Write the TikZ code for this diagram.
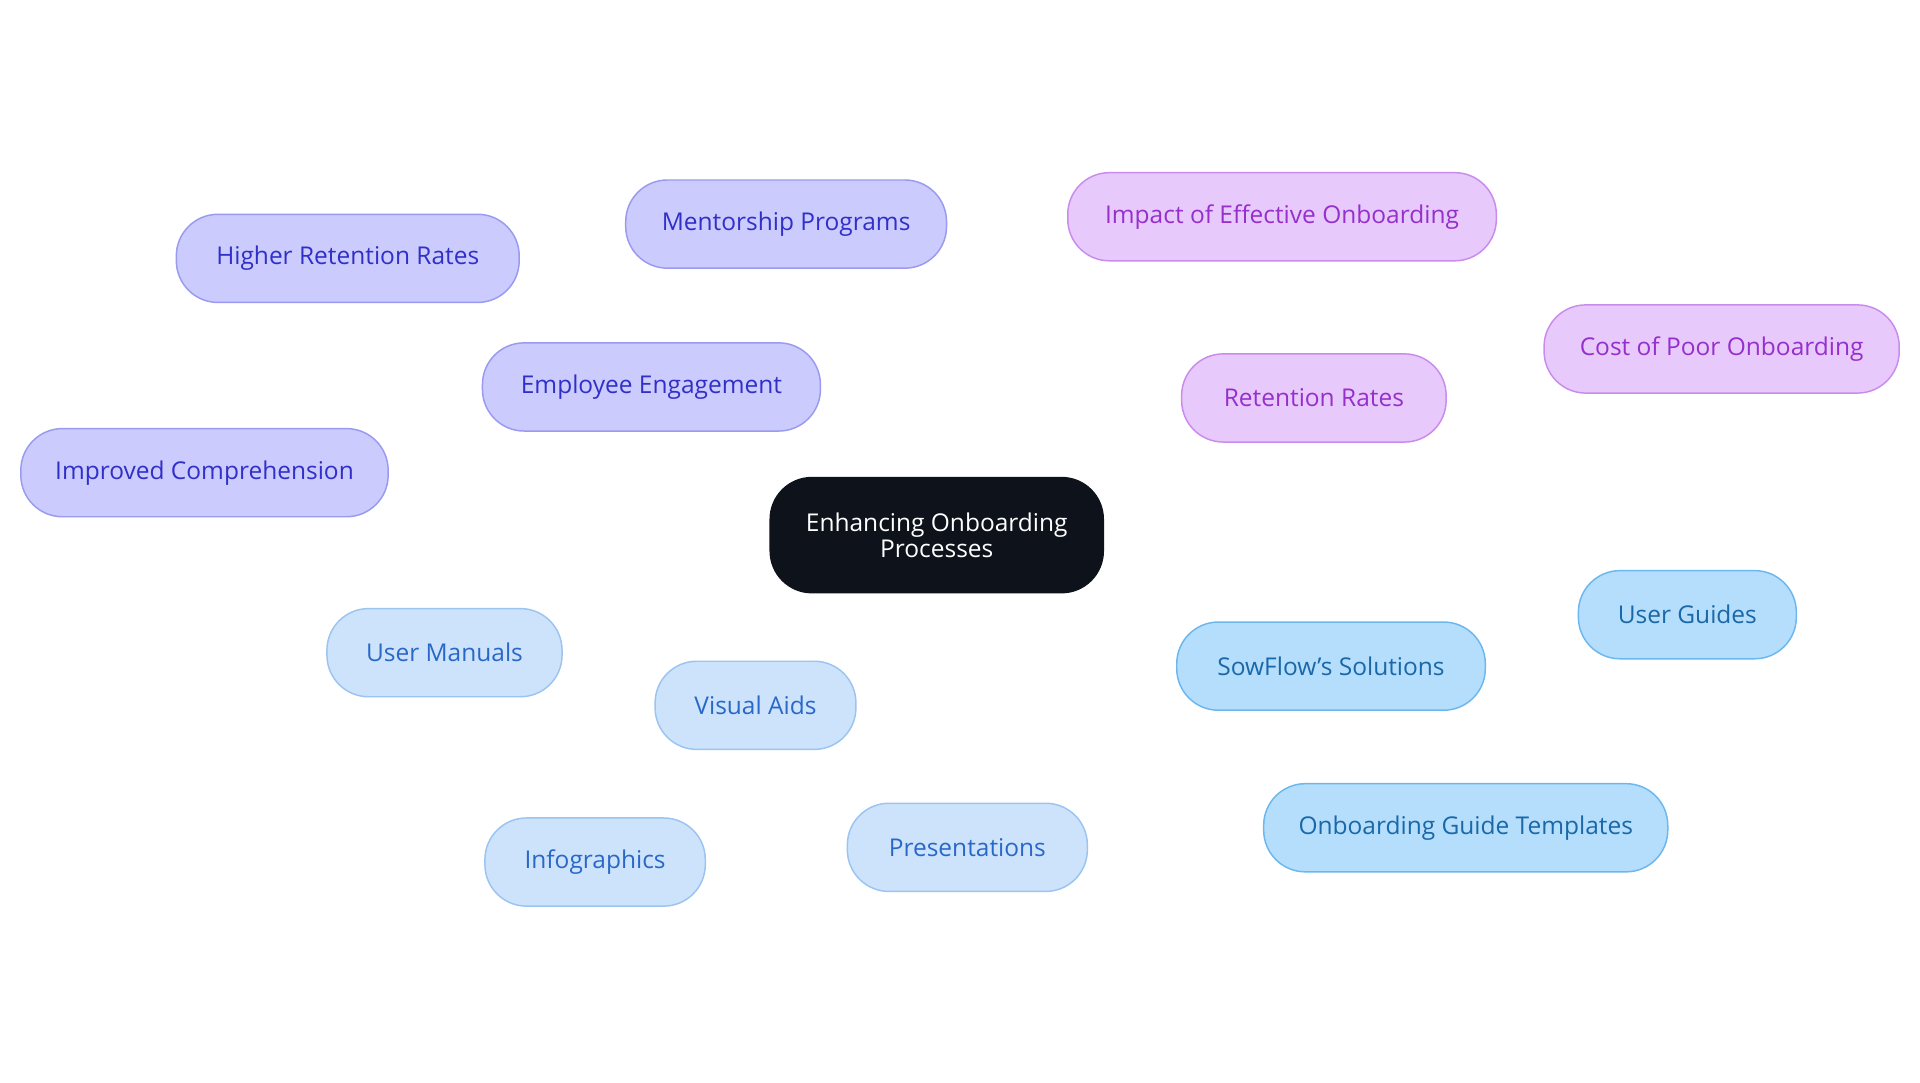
\documentclass[tikz,border=0pt]{standalone}
\usepackage{fontspec}
\setmainfont{Open Sans}
\usetikzlibrary{backgrounds}
\begin{document}
\begin{tikzpicture}[x=0.5pt,y=-0.5pt]
\definecolor{pF}{HTML}{CBCBFD}\definecolor{pD}{HTML}{9A9AF0}\definecolor{pT}{HTML}{3030C8}
\definecolor{mF}{HTML}{E8C9FC}\definecolor{mD}{HTML}{C98CEC}\definecolor{mT}{HTML}{9530CC}
\definecolor{bF}{HTML}{B5DEFC}\definecolor{bD}{HTML}{6CB8EE}\definecolor{bT}{HTML}{1A68A8}
\definecolor{lF}{HTML}{CDE3FB}\definecolor{lD}{HTML}{9CC4F0}\definecolor{lT}{HTML}{2A68C8}
\definecolor{cF}{HTML}{0D121B}
\tikzset{box/.style={draw,line width=0.6pt,rounded corners=17pt,minimum height=36pt,font=\fontsize{10}{11}\selectfont,align=center,inner sep=0pt},
pb/.style={box,fill=pF,draw=pD,text=pT},mb/.style={box,fill=mF,draw=mD,text=mT},
bb/.style={box,fill=bF,draw=bD,text=bT},lb/.style={box,fill=lF,draw=lD,text=lT},
ed/.style={line width=1.4pt}}
\fill[white] (0,0) rectangle (1568,884);
\useasboundingbox (0,0) rectangle (1568,884);
\node[box,fill=cF,draw=cF,text=white,minimum width=136pt,minimum height=47pt,font=\fontsize{10}{10.5}\selectfont] (c) at (765,437) {Enhancing Onboarding\\Processes};
\node[pb,minimum width=138pt] (ee) at (532,316) {Employee Engagement};
\node[pb,minimum width=131pt] (mp) at (642,183) {Mentorship Programs};
\node[pb,minimum width=140pt] (hr) at (284,211) {Higher Retention Rates};
\node[pb,minimum width=150pt] (ic) at (167,386) {Improved Comprehension};
\node[mb,minimum width=108pt] (rr) at (1073,325) {Retention Rates};
\node[mb,minimum width=175pt] (ie) at (1047,177) {Impact of Effective Onboarding};
\node[mb,minimum width=145pt] (cp) at (1406,285) {Cost of Poor Onboarding};
\node[bb,minimum width=126pt] (sf) at (1087,544) {SowFlow's Solutions};
\node[bb,minimum width=89pt] (ug) at (1378,502) {User Guides};
\node[bb,minimum width=165pt] (og) at (1197,676) {Onboarding Guide Templates};
\node[lb,minimum width=82pt] (va) at (617,576) {Visual Aids};
\node[lb,minimum width=96pt] (um) at (363,533) {User Manuals};
\node[lb,minimum width=90pt] (in) at (486,704) {Infographics};
\node[lb,minimum width=98pt] (pr) at (790,692) {Presentations};
\begin{scope}[on background layer]
\draw[ed,pD] (c.center) -- (ee.center);
\draw[ed,pD] (ee.center) -- (mp.center);
\draw[ed,pD] (ee.center) -- (hr.center);
\draw[ed,pD] (ee.center) -- (ic.center);
\draw[ed,mD] (c.center) -- (rr.center);
\draw[ed,mD] (rr.center) -- (ie.center);
\draw[ed,mD] (rr.center) -- (cp.center);
\draw[ed,bD] (c.center) -- (sf.center);
\draw[ed,bD] (sf.center) -- (ug.center);
\draw[ed,bD] (sf.center) -- (og.center);
\draw[ed,lD] (c.center) -- (va.center);
\draw[ed,lD] (va.center) -- (um.center);
\draw[ed,lD] (va.center) -- (in.center);
\draw[ed,lD] (va.center) -- (pr.center);
\end{scope}
\end{tikzpicture}
\end{document}
